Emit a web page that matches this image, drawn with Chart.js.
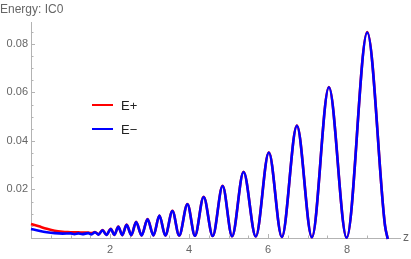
<!DOCTYPE html>
<html>
<head>
<meta charset="utf-8">
<script src="https://cdn.jsdelivr.net/npm/chart.js@4.4.1/dist/chart.umd.min.js"></script>
<style>
  html, body { margin: 0; padding: 0; background: #fff; }
  canvas { display: block; }
</style>
</head>
<body>
<canvas id="energyChart" width="411" height="259"></canvas>
<script>
  // Sample points along z (mostly the peaks and troughs)
  const zValues = [0, 0.2, 0.4, 0.6, 0.8, 1.0, 1.1, 1.2, 1.3, 1.45, 1.53, 1.62, 1.71, 1.81, 1.91,
    2.02, 2.11, 2.21, 2.31, 2.42, 2.54, 2.66, 2.80, 2.95, 3.10, 3.25, 3.40, 3.58, 3.75, 3.96,
    4.15, 4.37, 4.60, 4.85, 5.09, 5.38, 5.69, 6.02, 6.35, 6.73, 7.11, 7.54, 7.99, 8.51, 8.96, 9.03];

  const ePlus = [0.0058, 0.0048, 0.0038, 0.0030, 0.0026, 0.0024, 0.0023, 0.0023, 0.0022, 0.0022,
    0.0020, 0.0025, 0.0015, 0.0033, 0.0013, 0.0038, 0.0013, 0.0047, 0.0012, 0.0055, 0.0012,
    0.0067, 0.0011, 0.0078, 0.0011, 0.0093, 0.0010, 0.0112, 0.0010, 0.0140, 0.0009, 0.0170,
    0.0008, 0.0215, 0.0007, 0.0273, 0.0006, 0.0353, 0.0004, 0.0463, 0.0003, 0.0622, 0.0001,
    0.0849, 0.0052, -0.0004];

  const eMinus = [0.0037, 0.0030, 0.0024, 0.0020, 0.0018, 0.0019, 0.0016, 0.0019, 0.0016, 0.0020,
    0.0015, 0.0024, 0.0014, 0.0032, 0.0013, 0.0037, 0.0013, 0.0046, 0.0012, 0.0054, 0.0012,
    0.0066, 0.0011, 0.0077, 0.0011, 0.0092, 0.0010, 0.0111, 0.0010, 0.0139, 0.0009, 0.0169,
    0.0008, 0.0214, 0.0007, 0.0272, 0.0006, 0.0352, 0.0004, 0.0462, 0.0003, 0.0621, 0.0001,
    0.0847, 0.0052, -0.0004];

  const seriesLabels = ['E+', 'E\u2212'];
  const seriesColors = ['#ff0000', '#0000ff'];
  const xTicks = [2, 4, 6, 8];
  const yTicks = [0.02, 0.04, 0.06, 0.08];
  const chartTitle = 'Energy: IC0';
  const xAxisTitle = 'z';

  const axisColor = '#b3b3b3';
  const labelColor = '#666666';
  const fontFamily = '"Liberation Sans", Arial, sans-serif';

  // inward tick marks, title, axis name and the legend inside the plot
  const decorations = {
    id: 'decorations',
    beforeDatasetsDraw(chart) {
      const { ctx, chartArea } = chart;
      const x = chart.scales.x, y = chart.scales.y;
      ctx.save();
      ctx.strokeStyle = axisColor;
      ctx.lineWidth = 1;
      ctx.beginPath();
      for (let i = 1; i * 0.5 <= x.max; i++) {
        const px = Math.round(x.getPixelForValue(i * 0.5)) + 0.5;
        const len = i % 4 === 0 ? 4 : 2.5;
        ctx.moveTo(px, chartArea.bottom);
        ctx.lineTo(px, chartArea.bottom - len);
      }
      for (let i = 1; i * 0.005 <= y.max; i++) {
        const py = Math.round(y.getPixelForValue(i * 0.005)) + 0.5;
        const len = i % 4 === 0 ? 4 : 2.5;
        ctx.moveTo(chartArea.left, py);
        ctx.lineTo(chartArea.left + len, py);
      }
      ctx.stroke();
      ctx.restore();
    },
    afterDraw(chart) {
      const { ctx, chartArea } = chart;
      ctx.save();
      ctx.fillStyle = labelColor;
      ctx.font = '12px ' + fontFamily;
      ctx.textAlign = 'left';
      ctx.textBaseline = 'alphabetic';
      ctx.fillText(chartTitle, 0, 13);

      ctx.font = '12px ' + fontFamily;
      ctx.textBaseline = 'middle';
      ctx.fillText(xAxisTitle, chartArea.right + 3, chartArea.bottom);

      // legend
      ctx.font = '13px ' + fontFamily;
      ctx.fillStyle = '#222';
      seriesLabels.forEach((lab, i) => {
        const ly = 105 + i * 24;
        ctx.strokeStyle = seriesColors[i];
        ctx.lineWidth = 2;
        ctx.beginPath();
        ctx.moveTo(92, ly);
        ctx.lineTo(113, ly);
        ctx.stroke();
        ctx.fillText(lab, 121, ly + 1);
      });
      ctx.restore();
    }
  };

  const datasets = seriesLabels.map((lab, i) => ({
    label: lab,
    data: zValues.map((z, j) => ({ x: z, y: (i === 0 ? ePlus : eMinus)[j] })),
    borderColor: seriesColors[i],
    borderWidth: 2.6,
    pointRadius: 0,
    cubicInterpolationMode: 'monotone',
    clip: 4,
    order: i === 0 ? 1 : 0
  }));

  const config = {
    type: 'line',
    data: { datasets: datasets },
    options: {
      responsive: false,
      animation: false,
      devicePixelRatio: 1,
      layout: { padding: { left: 0, right: 11, top: 22, bottom: 0 } },
      plugins: {
        legend: { display: false },
        tooltip: { enabled: false }
      },
      scales: {
        x: {
          type: 'linear',
          min: 0,
          max: 9.34,
          grid: { display: false, drawTicks: false },
          border: { color: axisColor, width: 1 },
          afterBuildTicks: s => { s.ticks = xTicks.map(v => ({ value: v })); },
          afterFit: s => { s.height = 21; },
          ticks: {
            color: labelColor,
            font: { family: fontFamily, size: 11 },
            padding: 5,
            maxRotation: 0,
            callback: v => String(v)
          }
        },
        y: {
          type: 'linear',
          min: 0,
          max: 0.089,
          grid: { display: false, drawTicks: false },
          border: { color: axisColor, width: 1 },
          afterBuildTicks: s => { s.ticks = yTicks.map(v => ({ value: v })); },
          afterFit: s => { s.width = 31; },
          ticks: {
            color: labelColor,
            font: { family: fontFamily, size: 11 },
            padding: 3,
            callback: v => v.toFixed(2)
          }
        }
      }
    },
    plugins: [decorations]
  };

  const ctx = document.getElementById('energyChart').getContext('2d');
  new Chart(ctx, config);
</script>
</body>
</html>
